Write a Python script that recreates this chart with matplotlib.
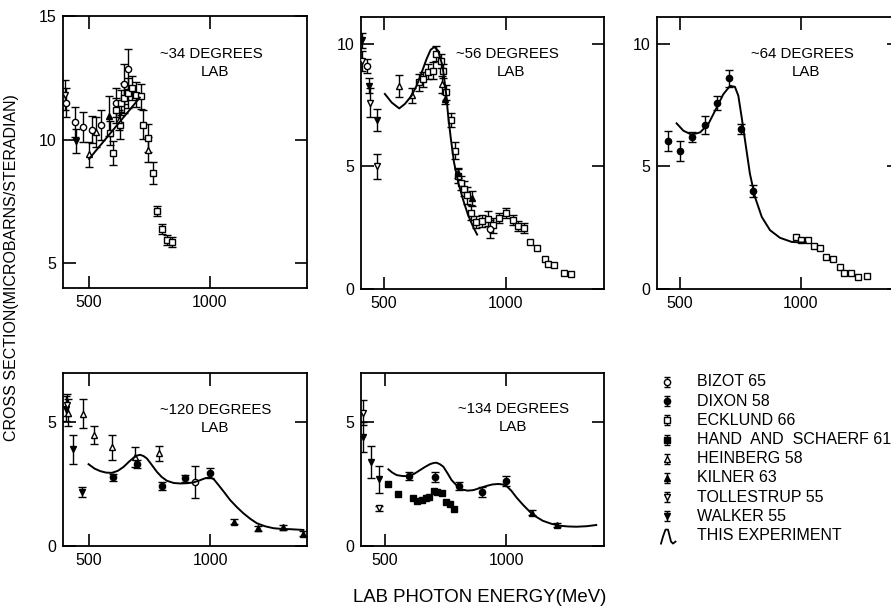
import numpy as np
import matplotlib
matplotlib.use("Agg")
import matplotlib.pyplot as plt

plt.rcParams["font.family"] = ["Liberation Sans", "DejaVu Sans"]

W, H = 891, 614

# ~34 degrees
e34_bizot = [404, 441, 476, 512, 548, 610, 644, 661]
v34_bizot = [11.5, 10.7, 10.5, 10.4, 10.6, 11.5, 12.25, 12.85]
err34_bizot = [0.6, 0.6, 0.6, 0.55, 0.6, 0.6, 0.8, 0.8]
e34_ecklund = [585, 597, 613, 628, 633, 644, 661, 677, 694, 713, 725, 745, 764, 782, 803, 821, 843]
v34_ecklund = [10.27, 9.46, 11.18, 10.58, 11.5, 11.69, 11.89, 12.09, 11.82, 11.75,
               10.61, 10.07, 8.64, 7.12, 6.37, 5.95, 5.85]
err34_ecklund = [0.5, 0.5, 0.5, 0.55, 0.5, 0.6, 0.6, 0.5, 0.5, 0.5, 0.6, 0.55, 0.45, 0.2, 0.2, 0.2, 0.2]
e34_heinberg = [500, 528, 624, 743]
v34_heinberg = [9.4, 10.3, 10.8, 9.6]
err34_heinberg = [0.5, 0.6, 0.4, 0.5]
e34_kilner = [582]
v34_kilner = [10.95]
err34_kilner = [0.8]
e34_walker = [445]
v34_walker = [9.95]
err34_walker = [0.5]
e34_tollestrup = [402]
v34_tollestrup = [11.8]
err34_tollestrup = [0.6]
e34_curve = [500, 600, 710]
v34_curve = [9.22, 10.4, 11.7]

# ~56 degrees
e56_ecklund = [645, 662, 683, 700, 716, 733, 741, 754, 774, 793, 803, 815, 829, 842, 856, 880,
               901, 928, 949, 974, 1000, 1029, 1052, 1075, 1100, 1130, 1162, 1176, 1200, 1238, 1268]
v56_ecklund = [8.43, 8.56, 8.87, 8.9, 9.6, 9.31, 8.9, 8.02, 6.9, 5.65, 4.61, 4.32, 4.09, 3.82, 3.12,
               2.74, 2.76, 2.87, 2.6, 2.91, 3.1, 2.8, 2.57, 2.49, 1.92, 1.69, 1.21, 1.04, 0.97, 0.66, 0.61]
err56_ecklund = [0.35, 0.3, 0.3, 0.35, 0.3, 0.3, 0.3, 0.3, 0.3, 0.35, 0.3, 0.3, 0.3, 0.35, 0.3, 0.25,
                 0.25, 0.3, 0.3, 0.2, 0.2, 0.2, 0.2, 0.2, 0, 0, 0, 0, 0, 0, 0]
e56_heinberg = [562, 616, 738]
v56_heinberg = [8.3, 7.9, 8.35]
err56_heinberg = [0.45, 0.3, 0.35]
e56_bizot = [431, 935]
v56_bizot = [9.1, 2.45]
err56_bizot = [0.3, 0.35]
e56_kilner = [752, 805, 862]
v56_kilner = [7.75, 4.75, 3.7]
err56_kilner = [0.2, 0.2, 0.3]
e56_walker = [411, 439, 472]
v56_walker = [10.15, 8.3, 6.9]
err56_walker = [0.3, 0.3, 0.45]
e56_tollestrup = [411, 441, 472]
v56_tollestrup = [9.3, 7.6, 5.0]
err56_tollestrup = [0.4, 0.6, 0.5]
e56_curve = [504, 532, 563, 586, 614, 634, 655, 675, 692, 707, 723, 741, 755, 764, 775, 788,
             805, 826, 846, 867, 883]
v56_curve = [7.96, 7.61, 7.37, 7.55, 7.89, 8.29, 8.83, 9.38, 9.76, 9.88, 9.72, 9.1, 8.02, 7.07,
             6.13, 5.17, 4.36, 3.62, 3.01, 2.53, 2.22]

# ~64 degrees
e64_dixon = [449, 500, 551, 603, 652, 702, 752, 803]
v64_dixon = [6.03, 5.62, 6.19, 6.69, 7.59, 8.6, 6.53, 4.0]
err64_dixon = [0.4, 0.4, 0.2, 0.35, 0.3, 0.35, 0.2, 0.25]
e64_ecklund = [978, 1000, 1028, 1055, 1079, 1103, 1131, 1161, 1178, 1205, 1236, 1271]
v64_ecklund = [2.13, 2.02, 2.02, 1.75, 1.68, 1.31, 1.21, 0.91, 0.66, 0.66, 0.5, 0.54]
err64_ecklund = [0] * 12
e64_curve = [486, 514, 548, 583, 617, 652, 679, 707, 727, 741, 755, 773, 789, 810, 838, 872, 913,
             962, 1000, 1020]
v64_curve = [6.76, 6.46, 6.3, 6.39, 6.73, 7.41, 7.95, 8.29, 8.25, 7.89, 7.0, 5.78, 4.7, 3.75, 2.94,
             2.4, 2.09, 1.92, 1.9, 1.9]

# ~120 degrees
e120_dixon = [600, 699, 801, 897, 1000]
v120_dixon = [2.78, 3.31, 2.43, 2.74, 2.94]
err120_dixon = [0.15, 0.15, 0.15, 0.15, 0.2]
e120_kilner = [1096, 1198, 1299, 1383]
v120_kilner = [0.98, 0.72, 0.76, 0.49]
err120_kilner = [0.1, 0.1, 0.1, 0.1]
e120_heinberg = [417, 477, 523, 596, 689, 788]
v120_heinberg = [5.4, 5.36, 4.49, 3.99, 3.61, 3.75]
err120_heinberg = [0.55, 0.6, 0.35, 0.5, 0.4, 0.3]
e120_bizot = [938]
v120_bizot = [2.6]
err120_bizot = [0.65]
e120_walker = [406, 436, 473]
v120_walker = [5.55, 3.91, 2.17]
err120_walker = [0.5, 0.6, 0.2]
e120_tollestrup = [410]
v120_tollestrup = [5.7]
err120_tollestrup = [0.45]
e120_curve = [500, 525, 548, 572, 596, 620, 644, 665, 685, 700, 712, 726, 740, 760, 781, 800, 822,
              850, 877, 904, 931, 955, 979, 1000, 1015, 1034, 1058, 1082, 1110, 1137, 1165, 1192,
              1225, 1260, 1295, 1329, 1383]
v120_curve = [3.31, 3.13, 3.03, 2.97, 2.96, 3.04, 3.2, 3.4, 3.57, 3.66, 3.69, 3.64, 3.54, 3.28,
              3.0, 2.8, 2.64, 2.55, 2.53, 2.54, 2.57, 2.65, 2.74, 2.78, 2.7, 2.47, 2.17, 1.86, 1.57,
              1.32, 1.1, 0.92, 0.8, 0.72, 0.69, 0.68, 0.65]

# ~134 degrees
e134_hand = [514, 555, 616, 633, 651, 667, 681, 700, 716, 735, 753, 767, 784]
v134_hand = [2.51, 2.1, 1.93, 1.83, 1.86, 1.93, 1.99, 2.22, 2.18, 2.13, 1.79, 1.7, 1.5]
err134_hand = [0] * 13
e134_dixon = [600, 705, 805, 900, 1000]
v134_dixon = [2.83, 2.8, 2.43, 2.19, 2.64]
err134_dixon = [0.15, 0.2, 0.15, 0.2, 0.2]
e134_kilner = [1106, 1208]
v134_kilner = [1.35, 0.85]
err134_kilner = [0.1, 0.1]
e134_walker = [408, 441, 477]
v134_walker = [4.42, 3.41, 2.7]
err134_walker = [0.6, 0.65, 0.55]
e134_tollestrup = [408, 477]
v134_tollestrup = [5.39, 1.52]
err134_tollestrup = [0.5, 0.1]
e134_curve = [514, 530, 548, 572, 596, 620, 644, 665, 685, 700, 712, 726, 740, 757, 774, 795, 815,
              840, 863, 890, 918, 942, 966, 985, 1000, 1020, 1041, 1068, 1096, 1123, 1150, 1185,
              1219, 1255, 1288, 1330, 1370]
v134_curve = [3.1, 2.97, 2.87, 2.83, 2.83, 2.92, 3.07, 3.2, 3.31, 3.36, 3.37, 3.31, 3.21, 2.95,
              2.67, 2.45, 2.29, 2.24, 2.26, 2.34, 2.43, 2.49, 2.51, 2.49, 2.43, 2.24, 1.97, 1.67,
              1.39, 1.18, 1.02, 0.9, 0.82, 0.79, 0.78, 0.8, 0.85]

legend_names = ["BIZOT 65", "DIXON 58", "ECKLUND 66", "HAND  AND  SCHAERF 61", "HEINBERG 58",
                "KILNER 63", "TOLLESTRUP 55", "WALKER 55"]

STYLES = {
    "BIZOT 65": dict(marker="o", mfc="white", ms=4.5),
    "DIXON 58": dict(marker="o", mfc="black", ms=4.5),
    "ECKLUND 66": dict(marker="s", mfc="white", ms=4.5),
    "HAND  AND  SCHAERF 61": dict(marker="s", mfc="black", ms=4.2),
    "HEINBERG 58": dict(marker="^", mfc="white", ms=3.8),
    "KILNER 63": dict(marker="^", mfc="black", ms=3.8),
    "TOLLESTRUP 55": dict(marker="v", mfc="white", ms=3.8),
    "WALKER 55": dict(marker="v", mfc="black", ms=3.8),
}


def points(ax, name, e, v, err):
    e, v, err = np.asarray(e, float), np.asarray(v, float), np.asarray(err, float)
    has = err > 0
    if has.any():
        ax.errorbar(e[has], v[has], yerr=err[has], fmt="none", ecolor="black",
                    elinewidth=1.0, capsize=2.6, capthick=1.0, zorder=2)
    ax.plot(e, v, ls="none", color="black", mec="black", mew=1.0, zorder=3, **STYLES[name])


def panel(fig, left, top, right, bottom, xlim, ylim, yticks):
    ax = fig.add_axes([left / W, 1 - bottom / H, (right - left) / W, (bottom - top) / H])
    ax.set_xlim(*xlim)
    ax.set_ylim(*ylim)
    ax.set_xticks([500, 1000])
    ax.set_yticks(yticks)
    ax.tick_params(direction="in", length=9, width=1.2, top=True, right=True,
                   labelsize=11.5, pad=5)
    for spine in ax.spines.values():
        spine.set_linewidth(1.3)
    return ax


def label(fig, x, y, angle):
    fig.text(x / W, 1 - y / H, "~" + angle + " DEGREES", fontsize=10.8, va="center")
    fig.text((x + 41) / W, 1 - (y + 18) / H, "LAB", fontsize=10.8, va="center")


def curve(ax, e, v):
    ax.plot(e, v, color="black", lw=1.4, zorder=4, solid_joinstyle="round")


fig = plt.figure(figsize=(W / 100, H / 100), dpi=100)
fig.patch.set_facecolor("white")

ax = panel(fig, 63, 16, 307, 288, (392, 1402), (4, 15), [5, 10, 15])
points(ax, "BIZOT 65", e34_bizot, v34_bizot, err34_bizot)
points(ax, "ECKLUND 66", e34_ecklund, v34_ecklund, err34_ecklund)
points(ax, "HEINBERG 58", e34_heinberg, v34_heinberg, err34_heinberg)
points(ax, "KILNER 63", e34_kilner, v34_kilner, err34_kilner)
points(ax, "WALKER 55", e34_walker, v34_walker, err34_walker)
points(ax, "TOLLESTRUP 55", e34_tollestrup, v34_tollestrup, err34_tollestrup)
curve(ax, e34_curve, v34_curve)
label(fig, 160, 54, "34")

ax = panel(fig, 361, 17, 604, 289, (406, 1404), (0, 11.1), [0, 5, 10])
points(ax, "ECKLUND 66", e56_ecklund, v56_ecklund, err56_ecklund)
points(ax, "HEINBERG 58", e56_heinberg, v56_heinberg, err56_heinberg)
points(ax, "BIZOT 65", e56_bizot, v56_bizot, err56_bizot)
points(ax, "KILNER 63", e56_kilner, v56_kilner, err56_kilner)
points(ax, "WALKER 55", e56_walker, v56_walker, err56_walker)
points(ax, "TOLLESTRUP 55", e56_tollestrup, v56_tollestrup, err56_tollestrup)
curve(ax, e56_curve, v56_curve)
label(fig, 456, 54, "56")

ax = panel(fig, 657, 17, 899, 289, (405, 1405), (0, 11.1), [0, 5, 10])
points(ax, "DIXON 58", e64_dixon, v64_dixon, err64_dixon)
points(ax, "ECKLUND 66", e64_ecklund, v64_ecklund, err64_ecklund)
curve(ax, e64_curve, v64_curve)
label(fig, 751, 54, "64")

ax = panel(fig, 63, 373, 307, 546, (395, 1398), (0, 7), [0, 5])
points(ax, "DIXON 58", e120_dixon, v120_dixon, err120_dixon)
points(ax, "KILNER 63", e120_kilner, v120_kilner, err120_kilner)
points(ax, "HEINBERG 58", e120_heinberg, v120_heinberg, err120_heinberg)
points(ax, "BIZOT 65", e120_bizot, v120_bizot, err120_bizot)
points(ax, "WALKER 55", e120_walker, v120_walker, err120_walker)
points(ax, "TOLLESTRUP 55", e120_tollestrup, v120_tollestrup, err120_tollestrup)
curve(ax, e120_curve, v120_curve)
label(fig, 160, 410, "120")

ax = panel(fig, 361, 373, 604, 546, (401, 1402), (0, 7), [0, 5])
points(ax, "HAND  AND  SCHAERF 61", e134_hand, v134_hand, err134_hand)
points(ax, "DIXON 58", e134_dixon, v134_dixon, err134_dixon)
points(ax, "KILNER 63", e134_kilner, v134_kilner, err134_kilner)
points(ax, "WALKER 55", e134_walker, v134_walker, err134_walker)
points(ax, "TOLLESTRUP 55", e134_tollestrup, v134_tollestrup, err134_tollestrup)
curve(ax, e134_curve, v134_curve)
label(fig, 458, 409, "134")

# legend drawn in pixel coordinates
lg = fig.add_axes([640 / W, 1 - 550 / H, 251 / W, 180 / H])
lg.set_xlim(640, 891)
lg.set_ylim(550, 370)
lg.axis("off")
for i, name in enumerate(legend_names):
    y = 382 + i * 19.2
    lg.errorbar([667], [y], yerr=[5], fmt="none", ecolor="black", elinewidth=1.0,
                capsize=2.2, capthick=1.0)
    lg.plot([667], [y], ls="none", color="black", mec="black", mew=1.0, **STYLES[name])
    lg.text(697, y, name, fontsize=11.5, va="center", ha="left")
y_exp = 382 + 8 * 19.2
lg.plot([661, 663, 665.5, 668, 669.5, 671, 673, 675.5],
        [y_exp + 8, y_exp + 1, y_exp - 6, y_exp - 6, y_exp, y_exp + 6, y_exp + 8, y_exp + 6],
        color="black", lw=1.3)
lg.text(697, y_exp, "THIS EXPERIMENT", fontsize=11.5, va="center", ha="left")

fig.text(12 / W, 1 - 268 / H, "CROSS SECTION(MICROBARNS/STERADIAN)", rotation=90,
         ha="center", va="center", fontsize=11.5)
fig.text(480 / W, 1 - 598 / H, "LAB PHOTON ENERGY(MeV)", ha="center", va="center", fontsize=13.4)

fig.savefig("out.png", dpi=100, facecolor="white")
